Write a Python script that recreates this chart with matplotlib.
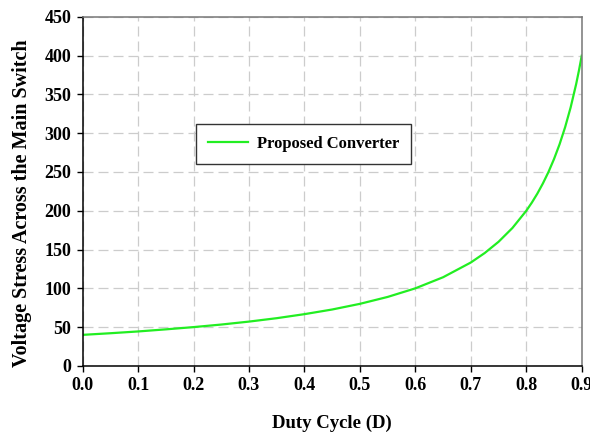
import matplotlib
matplotlib.use("Agg")
import matplotlib.pyplot as plt

# values
duty = [0.0, 0.05, 0.1, 0.15, 0.2, 0.25, 0.3, 0.35, 0.4, 0.45, 0.5, 0.55,
        0.6, 0.65, 0.7, 0.725, 0.75, 0.775, 0.8, 0.81, 0.82, 0.83, 0.84,
        0.85, 0.86, 0.87, 0.88, 0.89, 0.895, 0.9]
stress = [40.0, 42.1, 44.4, 47.1, 50.0, 53.3, 57.1, 61.5, 66.7, 72.7, 80.0, 88.9,
          100.0, 114.3, 133.3, 145.5, 160.0, 177.8, 200.0, 210.5, 222.2, 235.3, 250.0,
          266.7, 285.7, 307.7, 333.3, 363.6, 381.0, 400.0]

x_ticks = [0.0, 0.1, 0.2, 0.3, 0.4, 0.5, 0.6, 0.7, 0.8, 0.9]
y_ticks = [0, 50, 100, 150, 200, 250, 300, 350, 400, 450]

plt.rcParams["font.family"] = "Liberation Serif"
plt.rcParams["font.weight"] = "bold"

fig = plt.figure(figsize=(5.9, 4.33), dpi=100)
ax = fig.add_axes([0.140, 0.155, 0.846, 0.806])

ax.plot(duty, stress, color="#22ee22", linewidth=1.6, label="Proposed Converter")

ax.set_xlim(0, 0.9)
ax.set_ylim(0, 450)
ax.set_xticks(x_ticks)
ax.set_xticklabels([f"{t:.1f}" for t in x_ticks])
ax.set_yticks(y_ticks)
ax.tick_params(direction="out", length=4, width=1, labelsize=13, pad=4)

ax.grid(True, color="#cccccc", linestyle=(0, (8, 4)), linewidth=0.9)
ax.set_axisbelow(True)

ax.spines["left"].set_color("black")
ax.spines["bottom"].set_color("black")
ax.spines["top"].set_color("#777777")
ax.spines["right"].set_color("#777777")
for s in ax.spines.values():
    s.set_linewidth(1.1)

ax.set_xlabel("Duty Cycle (D)", fontsize=13.5, fontweight="bold", labelpad=15)
ax.set_ylabel("Voltage Stress Across the Main Switch", fontsize=14.5,
              fontweight="bold")
ax.yaxis.set_label_coords(-0.102, 0.465)

leg = ax.legend(loc="lower left", bbox_to_anchor=(0.21, 0.555), fontsize=12,
                frameon=True, fancybox=False, framealpha=1, edgecolor="#333333",
                handlelength=2.4, handletextpad=0.55, borderpad=0.72)
leg.get_frame().set_linewidth(1.0)

fig.savefig("out.png", dpi=100)
